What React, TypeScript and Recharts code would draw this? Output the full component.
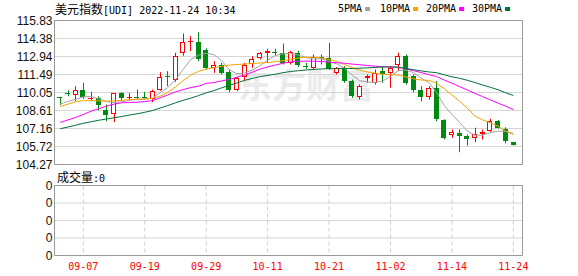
import { Bar, CartesianGrid, ComposedChart, Line, ReferenceArea, XAxis, YAxis } from "recharts";

const dates = [
  "09-02", "09-05", "09-06", "09-07", "09-08", "09-09", "09-12", "09-13", "09-14", "09-15",
  "09-16", "09-19", "09-20", "09-21", "09-22", "09-23", "09-26", "09-27", "09-28", "09-29",
  "09-30", "10-03", "10-04", "10-05", "10-06", "10-07", "10-10", "10-11", "10-12", "10-13",
  "10-14", "10-17", "10-18", "10-19", "10-20", "10-21", "10-24", "10-25", "10-26", "10-27",
  "10-28", "10-31", "11-01", "11-02", "11-03", "11-04", "11-07", "11-08", "11-09", "11-10",
  "11-11", "11-14", "11-15", "11-16", "11-17", "11-18", "11-21", "11-22", "11-23", "11-24",
];

const tickDates = ["09-07", "09-19", "09-29", "10-11", "10-21", "11-02", "11-14", "11-24"];

const openV = [
  109.66, 110.05, 109.87, 110.29, 109.6, 109.59, 108.63, 108.36, 109.97, 109.66,
  109.66, 109.66, 109.54, 110.29, 111.39, 111.09, 113.24, 114.1, 114.12, 113.5,
  111.98, 112.22, 111.68, 110.29, 111.31, 112.35, 112.84, 113.24, 113.27, 113.24,
  112.43, 113.24, 112.2, 112.03, 112.87, 112.84, 111.63, 112.03, 110.96, 109.7,
  111.23, 110.83, 111.77, 111.63, 112.22, 113.02, 111.36, 110.24, 109.7, 110.43,
  107.88, 106.62, 106.81, 106.54, 106.36, 106.73, 106.94, 107.8, 107.14, 106.09,
];
const highV = [
  109.7, 110.23, 110.56, 110.83, 110.1, 109.75, 109.09, 110.0, 110.07, 110.0,
  110.29, 110.1, 110.29, 111.68, 111.76, 113.24, 114.79, 114.57, 114.89, 113.6,
  112.56, 112.43, 111.9, 111.3, 112.43, 112.96, 113.3, 113.56, 113.56, 113.98,
  113.4, 113.4, 112.43, 113.1, 113.1, 114.04, 112.1, 112.17, 111.09, 110.69,
  111.49, 111.9, 112.17, 112.17, 113.24, 113.1, 111.49, 110.56, 110.56, 110.96,
  107.9, 107.08, 107.08, 106.68, 107.22, 107.08, 107.94, 107.85, 107.26, 106.09,
];
const lowV = [
  109.05, 109.75, 109.35, 109.54, 109.35, 108.6, 107.75, 107.67, 109.35, 109.45,
  109.55, 109.55, 109.27, 110.2, 110.56, 110.9, 113.0, 113.37, 112.56, 111.9,
  111.63, 111.5, 110.07, 110.16, 110.96, 112.03, 112.7, 112.43, 113.0, 112.3,
  112.3, 112.1, 111.95, 111.9, 112.3, 111.85, 111.5, 110.83, 109.62, 109.49,
  110.83, 110.69, 110.83, 110.43, 111.76, 110.69, 110.07, 109.35, 109.49, 107.75,
  106.28, 106.41, 105.26, 105.8, 106.06, 106.28, 106.89, 107.15, 105.96, 105.8,
];
const closeV = [
  109.63, 110.02, 110.24, 109.7, 109.64, 109.03, 108.28, 109.97, 109.62, 109.7,
  109.63, 109.63, 110.16, 111.31, 111.36, 112.96, 114.12, 114.15, 112.76, 112.03,
  112.22, 111.63, 110.24, 111.23, 112.22, 112.76, 113.24, 113.37, 113.24, 112.43,
  113.32, 112.22, 112.17, 112.92, 112.84, 111.9, 112.03, 110.96, 109.75, 110.56,
  111.41, 111.58, 111.5, 112.03, 113.02, 110.83, 110.24, 109.7, 110.43, 107.94,
  106.41, 106.85, 106.54, 106.33, 106.68, 106.89, 107.8, 107.22, 106.14, 105.8,
];

const ma5 = [
  109.13, 109.33, 109.5, 109.7, 109.73, 109.55, 109.32, 109.25, 109.3, 109.42,
  109.5, 109.53, 109.56, 110.05, 110.45, 111.05, 111.9, 112.7, 113.05, 113.2,
  113.1, 112.62, 111.88, 111.55, 111.62, 111.85, 112.2, 112.65, 113.02, 113.15,
  113.2, 113.05, 112.85, 112.75, 112.75, 112.55, 112.35, 112.0, 111.45, 111.0,
  110.9, 110.85, 110.98, 111.35, 111.8, 111.85, 111.65, 111.2, 110.85, 110.05,
  109.0, 108.3, 107.65, 106.95, 106.62, 106.62, 106.82, 106.95, 106.93, 106.77,
];
const ma10 = [
  108.92, 109.12, 109.3, 109.4, 109.4, 109.38, 109.35, 109.38, 109.42, 109.48,
  109.5, 109.52, 109.58, 109.75, 110.05, 110.5, 111.0, 111.45, 111.75, 111.92,
  112.05, 112.15, 112.25, 112.3, 112.33, 112.38, 112.42, 112.45, 112.52, 112.6,
  112.72, 112.82, 112.88, 112.88, 112.82, 112.7, 112.55, 112.3, 112.05, 111.85,
  111.7, 111.6, 111.52, 111.48, 111.45, 111.3, 111.15, 111.05, 111.02, 110.8,
  110.35, 109.85, 109.35, 108.8, 108.15, 107.85, 107.62, 107.35, 106.95, 106.68,
];
const ma20 = [
  107.65, 107.85, 108.05, 108.28, 108.55, 108.75, 108.95, 109.12, 109.22, 109.25,
  109.27, 109.32, 109.4, 109.62, 109.85, 110.1, 110.28, 110.45, 110.55, 110.78,
  110.85, 110.98, 111.1, 111.28, 111.45, 111.68, 111.92, 112.1, 112.25, 112.4,
  112.5, 112.55, 112.57, 112.56, 112.54, 112.48, 112.44, 112.4, 112.33, 112.28,
  112.22, 112.16, 112.12, 112.1, 112.08, 111.95, 111.8, 111.65, 111.48, 111.33,
  111.05, 110.8, 110.52, 110.25, 109.98, 109.72, 109.45, 109.2, 108.95, 108.68,
];
const ma30 = [
  107.14, 107.28, 107.42, 107.58, 107.7, 107.82, 107.92, 108.02, 108.12, 108.24,
  108.34, 108.46, 108.6, 108.8, 109.0, 109.22, 109.42, 109.6, 109.8, 110.02,
  110.2, 110.42, 110.62, 110.82, 111.02, 111.18, 111.32, 111.42, 111.52, 111.64,
  111.74, 111.8, 111.86, 111.9, 111.94, 111.96, 111.98, 111.98, 111.98, 112.0,
  112.03, 112.06, 112.1, 112.1, 112.08, 111.98, 111.88, 111.78, 111.7, 111.64,
  111.47, 111.31, 111.19, 111.03, 110.85, 110.65, 110.47, 110.27, 110.03, 109.81,
];
const volume = [
  0, 0, 0, 0, 0, 0, 0, 0, 0, 0, 0, 0, 0, 0, 0, 0, 0, 0, 0, 0,
  0, 0, 0, 0, 0, 0, 0, 0, 0, 0, 0, 0, 0, 0, 0, 0, 0, 0, 0, 0,
  0, 0, 0, 0, 0, 0, 0, 0, 0, 0, 0, 0, 0, 0, 0, 0, 0, 0, 0, 0,
];

const priceTicks = [104.27, 105.72, 107.16, 108.61, 110.05, 111.49, 112.94, 114.38, 115.83];
const volumeTicks = [0, 0.1, 0.2, 0.3, 0.4];

const maSeries = [
  { key: "ma5", name: "5PMA", color: "#a3a3a3" },
  { key: "ma10", name: "10PMA", color: "#f5a400" },
  { key: "ma20", name: "20PMA", color: "#ff00ff" },
  { key: "ma30", name: "30PMA", color: "#00703a" },
];

const UP = "#ff0000";
const DOWN = "#008a10";
const X_DOMAIN: [number, number] = [-0.75, 60.19];
const MONO = "'DejaVu Sans Mono', monospace";
const CJK = "'Noto Sans CJK SC', sans-serif";
const NUM = "'Liberation Sans', Arial, sans-serif";

const rows = dates.map((date, i) => ({
  idx: i,
  date,
  open: openV[i],
  high: highV[i],
  low: lowV[i],
  close: closeV[i],
  ma5: ma5[i],
  ma10: ma10[i],
  ma20: ma20[i],
  ma30: ma30[i],
  vol: volume[i],
}));

const tickIdx = tickDates.map((d) => dates.indexOf(d));

function Candle(props: any) {
  const { x, y, width, height, payload } = props;
  const { open, close, high, low } = payload;
  const span = high - low;
  const toY = (v: number) => (span > 0 ? y + ((high - v) / span) * height : y);
  const up = close >= open;
  const color = up ? UP : DOWN;
  const cx = Math.round(x + width / 2) + 0.5;
  const bx = Math.round(x);
  const top = Math.round(toY(Math.max(open, close)));
  const bot = Math.round(toY(Math.min(open, close)));
  const bh = bot - top;
  let body;
  if (bh < 2) {
    body = <rect x={bx} y={top} width={width} height={1} fill={color} />;
  } else if (up) {
    body = <rect x={bx + 0.5} y={top + 0.5} width={width - 1} height={bh - 1} fill="#fff" stroke={color} />;
  } else {
    body = <rect x={bx} y={top} width={width} height={bh} fill={color} />;
  }
  return (
    <g>
      <line x1={cx} x2={cx} y1={y} y2={y + height} stroke={color} />
      {body}
    </g>
  );
}

export default function App() {
  return (
    <div style={{ position: "absolute", left: 0, top: 0, width: 578, height: 276, background: "#fff", overflow: "hidden" }}>
      <div
        style={{
          position: "absolute",
          left: 238,
          top: 64,
          fontFamily: CJK,
          fontWeight: 700,
          fontSize: 34,
          lineHeight: "40px",
          color: "#ebebeb",
          whiteSpace: "nowrap",
        }}
      >
        东方财富
      </div>

      <div style={{ position: "absolute", left: 0, top: 0 }}>
        <ComposedChart width={578} height={180} data={rows} margin={{ top: 20.5, right: 55.5, bottom: 15.5, left: 0 }}>
          <CartesianGrid vertical={false} stroke="#d6d6d6" />
          <CartesianGrid horizontal={false} stroke="#d0d0d0" strokeDasharray="4 3" />
          <XAxis
            dataKey="idx"
            type="number"
            domain={X_DOMAIN}
            ticks={tickIdx}
            allowDataOverflow
            tick={false}
            axisLine={false}
            tickLine={false}
            height={0}
          />
          <YAxis
            domain={[priceTicks[0], priceTicks[priceTicks.length - 1]]}
            ticks={priceTicks}
            allowDataOverflow
            width={54.5}
            axisLine={false}
            tickLine={false}
            tickSize={0}
            tickMargin={2}
            interval={0}
            tickFormatter={(v: number) => v.toFixed(2)}
            tick={{ fill: "#111", fontSize: 12, fontFamily: NUM }}
          />
          {maSeries.map((s) => (
            <Line
              key={s.key}
              dataKey={s.key}
              name={s.name}
              stroke={s.color}
              strokeWidth={1}
              dot={false}
              type="linear"
              isAnimationActive={false}
            />
          ))}
          <Bar
            dataKey={(d: any) => [d.low, d.high]}
            barSize={5}
            shape={Candle}
            isAnimationActive={false}
          />
          <ReferenceArea
            x1={X_DOMAIN[0]}
            x2={X_DOMAIN[1]}
            y1={priceTicks[0]}
            y2={priceTicks[priceTicks.length - 1]}
            fill="none"
            stroke="#999"
            ifOverflow="visible"
          />
        </ComposedChart>
      </div>

      <div style={{ position: "absolute", left: 0, top: 170 }}>
        <ComposedChart width={578} height={106} data={rows} margin={{ top: 15.5, right: 55.5, bottom: 0, left: 0 }}>
          <CartesianGrid vertical={false} stroke="#d6d6d6" />
          <CartesianGrid horizontal={false} stroke="#d0d0d0" strokeDasharray="4 3" />
          <XAxis
            dataKey="idx"
            type="number"
            domain={X_DOMAIN}
            ticks={tickIdx}
            allowDataOverflow
            interval={0}
            height={20.5}
            axisLine={false}
            tickLine={false}
            tickSize={0}
            tickMargin={7}
            tickFormatter={(i: number) => dates[i]}
            tick={{ fill: "#ff0000", fontSize: 10, fontFamily: MONO }}
          />
          <YAxis
            domain={[volumeTicks[0], volumeTicks[volumeTicks.length - 1]]}
            ticks={volumeTicks}
            allowDataOverflow
            width={54.5}
            axisLine={false}
            tickLine={false}
            tickSize={0}
            tickMargin={2}
            interval={0}
            tickFormatter={(v: number) => v.toFixed(0)}
            tick={{ fill: "#111", fontSize: 12, fontFamily: NUM }}
          />
          <Bar dataKey="vol" barSize={5} fill={DOWN} isAnimationActive={false} />
          <ReferenceArea
            x1={X_DOMAIN[0]}
            x2={X_DOMAIN[1]}
            y1={volumeTicks[0]}
            y2={volumeTicks[volumeTicks.length - 1]}
            fill="none"
            stroke="#999"
            ifOverflow="visible"
          />
        </ComposedChart>
      </div>

      <svg width={578} height={276} style={{ position: "absolute", left: 0, top: 0, pointerEvents: "none" }}>
        <text x={55} y={13.5} fontSize={10} fontFamily={MONO} fill="#000">
          <tspan fontFamily={CJK} fontSize={12}>美元指数</tspan>
          <tspan>[UDI] 2022-11-24 10:34</tspan>
        </text>
        {maSeries.map((s, k) => {
          const starts = [338, 380, 426, 472];
          const x0 = starts[k];
          const w = s.name.length * 6.02;
          return (
            <g key={s.key}>
              <text x={x0} y={12} fontSize={10} fontFamily={MONO} fill="#000">
                {s.name}
              </text>
              <rect x={x0 + w + 3} y={7} width={5} height={4} fill={s.color} />
            </g>
          );
        })}
        <text x={57} y={181.5} fontSize={12} fontFamily={CJK} fill="#000">
          成交量<tspan fontFamily={MONO} fontSize={10}>:0</tspan>
        </text>
      </svg>
    </div>
  );
}
